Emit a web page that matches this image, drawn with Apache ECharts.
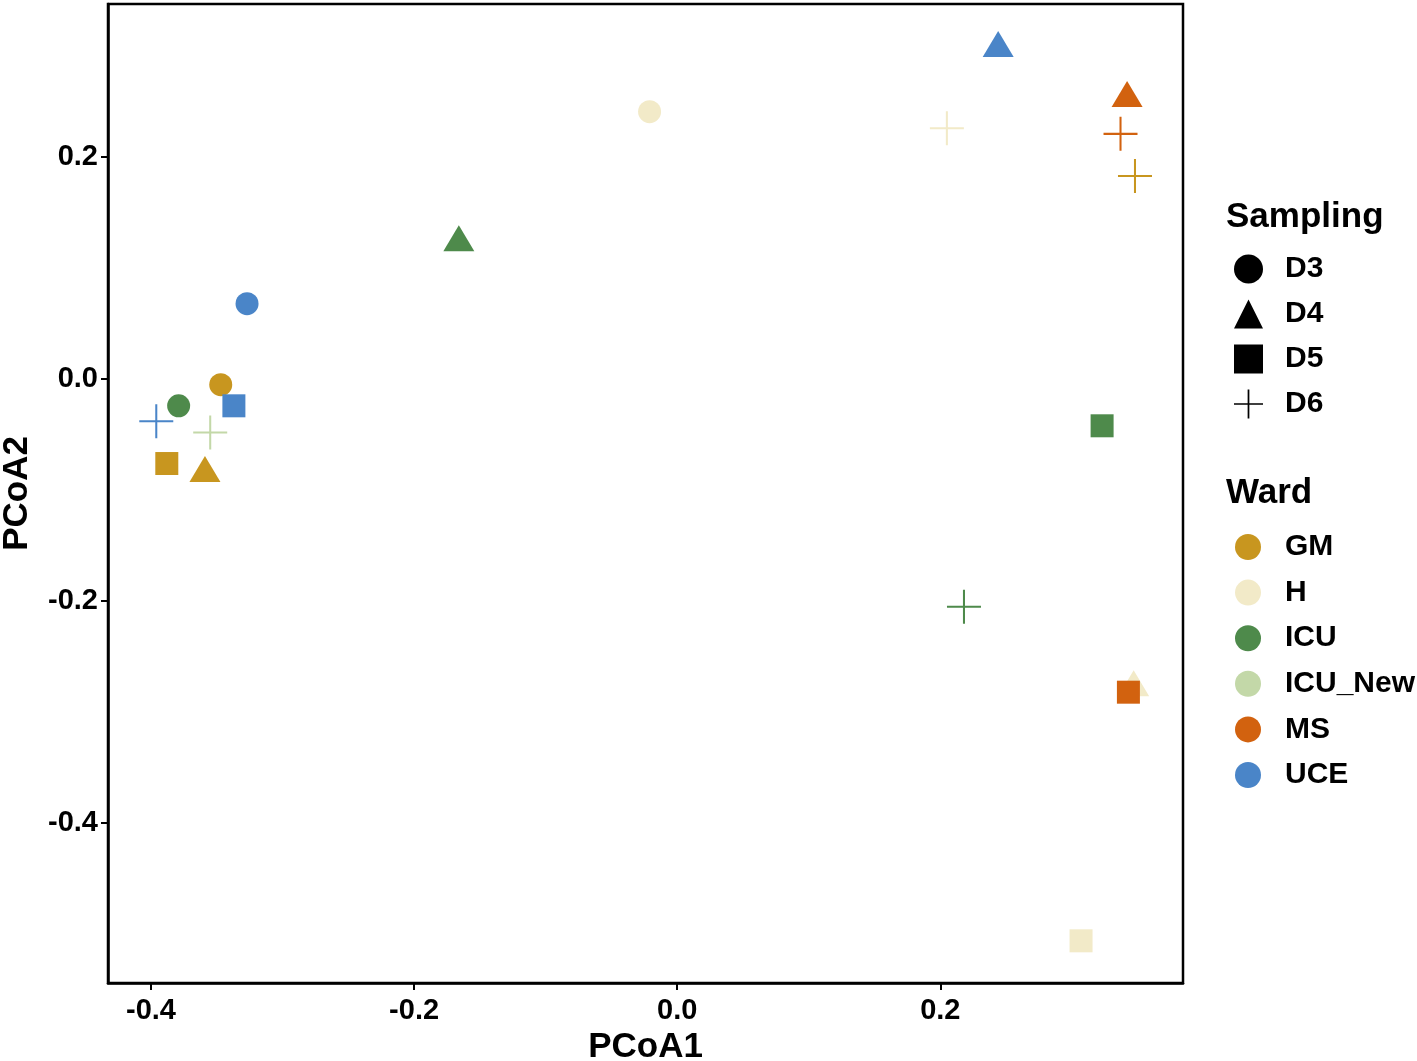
<!DOCTYPE html>
<html>
<head>
<meta charset="utf-8">
<title>PCoA</title>
<script src="https://cdn.jsdelivr.net/npm/echarts@6.0.0/dist/echarts.min.js"></script>
<style>
    html, body { margin: 0; padding: 0; background: #fff; }
    #chart { width: 1417px; height: 1061px; }
</style>
</head>
<body>
<div id="chart"></div>
<script>
// 数据
const wards = ['GM', 'H', 'ICU', 'ICU_New', 'MS', 'UCE']
const wardColors = ['#c8961f', '#f2eac8', '#4e8a4b', '#c3d8a8', '#d2620f', '#4a85c8']
const samplings = ['D3', 'D4', 'D5', 'D6']

// 每个样本: 病区, 采样, PCoA1, PCoA2
const sampleWard = ['GM', 'GM', 'GM', 'GM', 'H', 'H', 'H', 'H', 'ICU', 'ICU', 'ICU', 'ICU', 'ICU_New', 'MS', 'MS', 'MS', 'UCE', 'UCE', 'UCE', 'UCE']
const sampleDay = ['D3', 'D4', 'D5', 'D6', 'D3', 'D4', 'D5', 'D6', 'D3', 'D4', 'D5', 'D6', 'D6', 'D4', 'D5', 'D6', 'D3', 'D4', 'D5', 'D6']
const pcoa1 = [-0.347, -0.359, -0.388, 0.348, -0.021, 0.347, 0.307, 0.205, -0.379, -0.166, 0.323, 0.218, -0.355, 0.342, 0.343, 0.337, -0.327, 0.244, -0.337, -0.396]
const pcoa2 = [-0.005, -0.081, -0.076, 0.183, 0.241, -0.274, -0.506, 0.226, -0.024, 0.127, -0.042, -0.205, -0.048, 0.257, -0.282, 0.221, 0.068, 0.302, -0.024, -0.038]

const axisTicks = [-0.4, -0.2, 0.0, 0.2]

// 十字形符号
const plusPath = 'path://M47,0L53,0L53,47L100,47L100,53L53,53L53,100L47,100L47,53L0,53L0,47L47,47Z'
const symbolOf = { D3: 'circle', D4: 'triangle', D5: 'rect', D6: plusPath }
const sizeOf = { D3: 23, D4: [31, 26], D5: 23, D6: 34 }

const font = '"Liberation Sans", Arial, sans-serif'

const chart = echarts.init(document.getElementById('chart'))

// 每个病区一个系列
const wardSeries = wards.map(function (w, wi) {
    const data = []
    sampleWard.forEach(function (sw, i) {
        if (sw !== w) return
        data.push({
            value: [pcoa1[i], pcoa2[i]],
            symbol: symbolOf[sampleDay[i]],
            symbolSize: sizeOf[sampleDay[i]],
        })
    })
    return {
        name: w,
        type: 'scatter',
        data: data,
        itemStyle: { color: wardColors[wi], opacity: 1 },
        emphasis: { disabled: true },
    }
})

// 采样图例用的空系列
const daySeries = samplings.map(function (d) {
    return {
        name: d,
        type: 'scatter',
        data: [],
        symbol: symbolOf[d],
        itemStyle: { color: '#000', opacity: 1 },
    }
})

const axisCommon = {
    type: 'value',
    axisLine: { show: true, onZero: false, lineStyle: { color: '#000', width: 2.5 } },
    axisTick: { show: true, length: 7, customValues: axisTicks, lineStyle: { color: '#000', width: 2 } },
    axisLabel: {
        customValues: axisTicks,
        formatter: function (v) { return v.toFixed(1) },
        color: '#000',
        fontFamily: font,
        fontWeight: 'bold',
        fontSize: 29,
    },
    splitLine: { show: false },
    nameLocation: 'middle',
    nameTextStyle: { color: '#000', fontFamily: font, fontWeight: 'bold', fontSize: 35 },
}

const legendText = { color: '#000', fontFamily: font, fontWeight: 'bold', fontSize: 30, padding: [0, 0, 0, 19] }
const titleText = { color: '#000', fontFamily: font, fontWeight: 'bold', fontSize: 35 }

const option = {
    animation: false,
    backgroundColor: '#fff',
    grid: {
        left: 108,
        right: 234,
        top: 4,
        bottom: 78,
        outerBoundsMode: 'none',
        containLabel: false,
        show: true,
        borderColor: '#000',
        borderWidth: 2.5,
    },
    xAxis: Object.assign({}, axisCommon, {
        min: -0.4327,
        max: 0.3845,
        name: 'PCoA1',
        nameGap: 46,
        axisLabel: Object.assign({}, axisCommon.axisLabel, { margin: 13 }),
    }),
    yAxis: Object.assign({}, axisCommon, {
        min: -0.544,
        max: 0.338,
        name: 'PCoA2',
        nameGap: 73,
        axisLabel: Object.assign({}, axisCommon.axisLabel, { margin: 10 }),
    }),
    title: [
        { text: 'Sampling', left: 1226, top: 200, textStyle: titleText, padding: 0 },
        { text: 'Ward', left: 1226, top: 476, textStyle: titleText, padding: 0 },
    ],
    legend: [
        {
            data: samplings.map(function (d) { return { name: d, icon: symbolOf[d] } }),
            orient: 'vertical',
            left: 1234,
            top: 254,
            padding: 0,
            itemWidth: 29,
            itemHeight: 29,
            itemGap: 15,
            selectedMode: false,
            itemStyle: { color: '#000', opacity: 1 },
            textStyle: Object.assign({}, legendText, { padding: [0, 0, 0, 17] }),
        },
        {
            data: wards.map(function (w) { return { name: w, icon: 'circle' } }),
            orient: 'vertical',
            left: 1235,
            top: 532,
            padding: 0,
            itemWidth: 26,
            itemHeight: 26,
            itemGap: 15.6,
            textStyle: legendText,
        },
    ],
    series: wardSeries.concat(daySeries),
}

chart.setOption(option)

window.addEventListener('resize', function () {
    chart.resize()
})
</script>
</body>
</html>
